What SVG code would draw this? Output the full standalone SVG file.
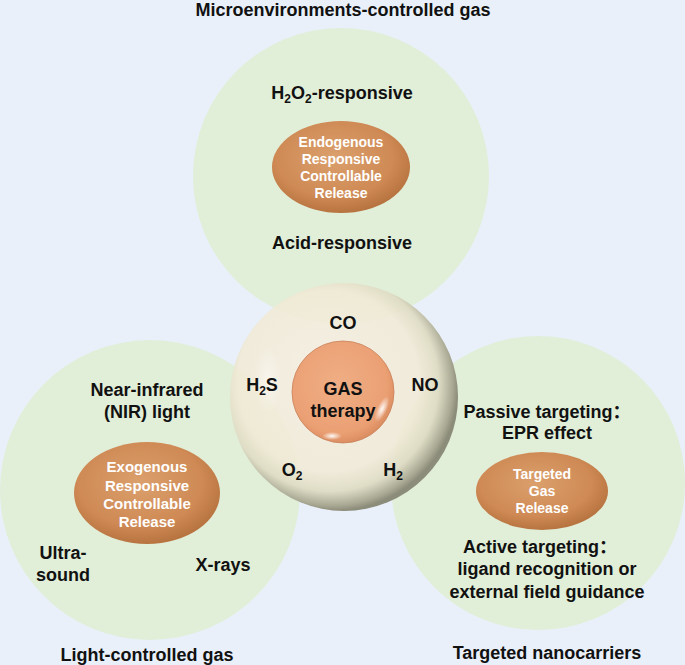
<svg xmlns="http://www.w3.org/2000/svg" width="685" height="665" viewBox="0 0 685 665">
<defs>
<style>
text{font-family:"Liberation Sans","Noto Sans CJK SC",Arial,sans-serif;font-weight:bold;text-anchor:middle;}
.lbl{font-size:18px;fill:#111;}
.el{fill:#fff;}
.zone{fill:#e1eed8;}
</style>
<radialGradient id="orange" cx="0.45" cy="0.4" r="0.6">
<stop offset="0" stop-color="#dba06c"/>
<stop offset="0.7" stop-color="#cf8a55"/>
<stop offset="1" stop-color="#b87440"/>
</radialGradient>
<radialGradient id="sphere" cx="0.45" cy="0.45" r="0.55" fx="0.38" fy="0.38">
<stop offset="0" stop-color="#f6efe0" stop-opacity="0.9"/>
<stop offset="0.72" stop-color="#f1ead6" stop-opacity="0.88"/>
<stop offset="0.86" stop-color="#dfdcc4" stop-opacity="0.95"/>
<stop offset="0.96" stop-color="#a9a994"/>
<stop offset="1" stop-color="#8c8c7a"/>
</radialGradient>
<radialGradient id="core" cx="0.45" cy="0.42" r="0.6">
<stop offset="0" stop-color="#f0ae84"/>
<stop offset="0.8" stop-color="#eba074"/>
<stop offset="1" stop-color="#d98b5e"/>
</radialGradient>
<radialGradient id="hl" cx="0.5" cy="0.5" r="0.5">
<stop offset="0" stop-color="#ffffff" stop-opacity="0.95"/>
<stop offset="1" stop-color="#ffffff" stop-opacity="0"/>
</radialGradient>
</defs>
<rect width="685" height="665" fill="#e9f0f9"/>
<g id="zone-top">
<circle class="zone" cx="341" cy="176" r="148"/>
<text class="lbl" x="343" y="16">Microenvironments-controlled gas</text>
<text class="lbl" x="342" y="99">H<tspan font-size="12" dy="4">2</tspan><tspan dy="-4">O</tspan><tspan font-size="12" dy="4">2</tspan><tspan dy="-4">-responsive</tspan></text>
<ellipse cx="341" cy="167" rx="69" ry="46" fill="url(#orange)"/>
<text class="el" font-size="14" x="341" y="147">Endogenous</text>
<text class="el" font-size="14" x="341" y="164">Responsive</text>
<text class="el" font-size="14" x="341" y="181">Controllable</text>
<text class="el" font-size="14" x="341" y="198">Release</text>
<text class="lbl" x="342" y="249">Acid-responsive</text>
</g>
<g id="zone-left">
<circle class="zone" cx="150" cy="490" r="150"/>
<text class="lbl" x="147" y="396">Near-infrared</text>
<text class="lbl" x="147" y="418">(NIR) light</text>
<ellipse cx="147" cy="493" rx="73" ry="51" fill="url(#orange)"/>
<text class="el" font-size="15" x="147" y="472">Exogenous</text>
<text class="el" font-size="15" x="147" y="491">Responsive</text>
<text class="el" font-size="15" x="147" y="509">Controllable</text>
<text class="el" font-size="15" x="147" y="527">Release</text>
<text class="lbl" x="63" y="559">Ultra-</text>
<text class="lbl" x="63" y="581">sound</text>
<text class="lbl" x="223" y="571">X-rays</text>
<text class="lbl" x="147" y="661">Light-controlled gas</text>
</g>
<g id="zone-right">
<circle class="zone" cx="538" cy="483" r="147"/>
<text class="lbl" x="547" y="418">Passive targeting：</text>
<text class="lbl" x="547" y="439">EPR effect</text>
<ellipse cx="542" cy="491" rx="66" ry="39" fill="url(#orange)"/>
<text class="el" font-size="14" x="542" y="479">Targeted</text>
<text class="el" font-size="14" x="542" y="496">Gas</text>
<text class="el" font-size="14" x="542" y="513">Release</text>
<text class="lbl" x="540" y="553">Active targeting：</text>
<text class="lbl" x="547" y="575">ligand recognition or</text>
<text class="lbl" x="547" y="598">external field guidance</text>
<text class="lbl" x="547" y="659">Targeted nanocarriers</text>
</g>
<g id="gas-sphere">
<circle cx="344" cy="397" r="114" fill="url(#sphere)"/>
<ellipse cx="268" cy="380" rx="14" ry="34" fill="url(#hl)" opacity="0.5"/>
<circle cx="343" cy="392" r="51" fill="url(#core)" stroke="#c9825a" stroke-width="0.8"/>
<ellipse cx="382" cy="409" rx="5" ry="14" fill="url(#hl)" transform="rotate(25 382 409)"/>
<ellipse cx="332" cy="436" rx="10" ry="4" fill="url(#hl)"/>
<text class="lbl" x="343" y="329">CO</text>
<text class="lbl" x="262" y="391">H<tspan font-size="12" dy="4">2</tspan><tspan dy="-4">S</tspan></text>
<text class="lbl" x="425" y="391">NO</text>
<text class="lbl" x="292" y="476">O<tspan font-size="12" dy="4">2</tspan></text>
<text class="lbl" x="393" y="476">H<tspan font-size="12" dy="4">2</tspan></text>
<text class="lbl" font-size="19" x="343" y="395">GAS</text>
<text class="lbl" font-size="19" x="343" y="417">therapy</text>
</g>
<g id="connectors"/>
</svg>
